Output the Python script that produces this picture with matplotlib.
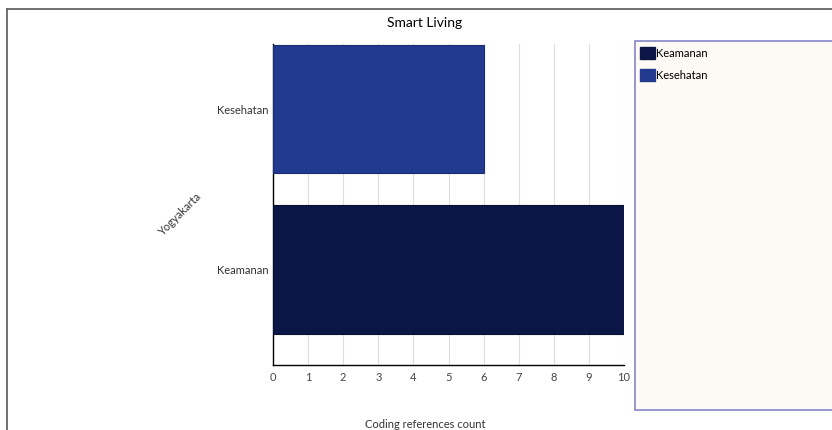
import matplotlib.pyplot as plt
from matplotlib.patches import Rectangle, Patch
from matplotlib.lines import Line2D

# data
categories = ["Keamanan", "Kesehatan"]
counts = [10, 6]
bar_colors = ["#0c1646", "#21398f"]
x_ticks = list(range(0, 11))

plt.rcParams["font.family"] = ["Lato", "DejaVu Sans"]

fig = plt.figure(figsize=(8.32, 4.30), dpi=100)
fig.patch.set_facecolor("white")

# outer frame (top and left edges only visible)
fig.add_artist(Line2D([7 / 832, 1.0], [1 - 9 / 430, 1 - 9 / 430],
                      transform=fig.transFigure, color="#666666", lw=1.3))
fig.add_artist(Line2D([7 / 832, 7 / 832], [1 - 9 / 430, 0.0],
                      transform=fig.transFigure, color="#666666", lw=1.3))

ax = fig.add_axes([273 / 832, 1 - 365 / 430, 351 / 832, 321 / 430])

ax.barh(
    range(len(categories)),
    counts,
    height=0.80,
    color=bar_colors,
    edgecolor=["#08102f", "#1a2d72"],
    linewidth=0.8,
    zorder=3
)

ax.set_xlim(0, 10)
ax.set_ylim(-0.595, 1.405)
ax.set_xticks(x_ticks)
ax.set_xticklabels([str(t) for t in x_ticks], fontsize=8, color="#444444")
ax.set_yticks(range(len(categories)))
ax.set_yticklabels(categories, fontsize=8, color="#333333")
ax.tick_params(axis="y", length=0, pad=3)
ax.tick_params(axis="x", length=0, pad=5)
for lbl in ax.get_yticklabels():
    lbl.set_va("center_baseline")

ax.grid(axis="x", color="#dddddd", lw=0.8, zorder=0)
ax.grid(axis="y", visible=False)

for side in ["top", "right"]:
    ax.spines[side].set_visible(False)
ax.spines["left"].set_color("black")
ax.spines["bottom"].set_color("black")
ax.spines["left"].set_linewidth(1.0)
ax.spines["bottom"].set_linewidth(1.0)

fig.text(425 / 832, 1 - 23 / 430, "Smart Living",
         ha="center", va="center", fontsize=10, color="black")
fig.text(425 / 832, 1 - 425 / 430, "Coding references count",
         ha="center", va="center", fontsize=8, color="#333333")
fig.text(180 / 832, 1 - 215 / 430, "Yogyakarta",
         ha="center", va="center", rotation=45, fontsize=8, color="#333333")

# legend panel
fig.add_artist(Rectangle(
    (635 / 832, 1 - 410 / 430),
    0.3,
    369 / 430,
    transform=fig.transFigure,
    facecolor="#fdf9f4",
    edgecolor="#8585c8",
    lw=1.2
))

handles = [Patch(facecolor=c, edgecolor=c) for c in bar_colors]
fig.legend(
    handles,
    categories,
    loc="upper left",
    bbox_to_anchor=(638 / 832, 1 - 45 / 430),
    frameon=False,
    fontsize=8,
    handlelength=1.35,
    handleheight=1.35,
    handletextpad=0.1,
    labelspacing=0.85,
    borderpad=0.15,
    borderaxespad=0
)

fig.savefig("out.png", dpi=100)
